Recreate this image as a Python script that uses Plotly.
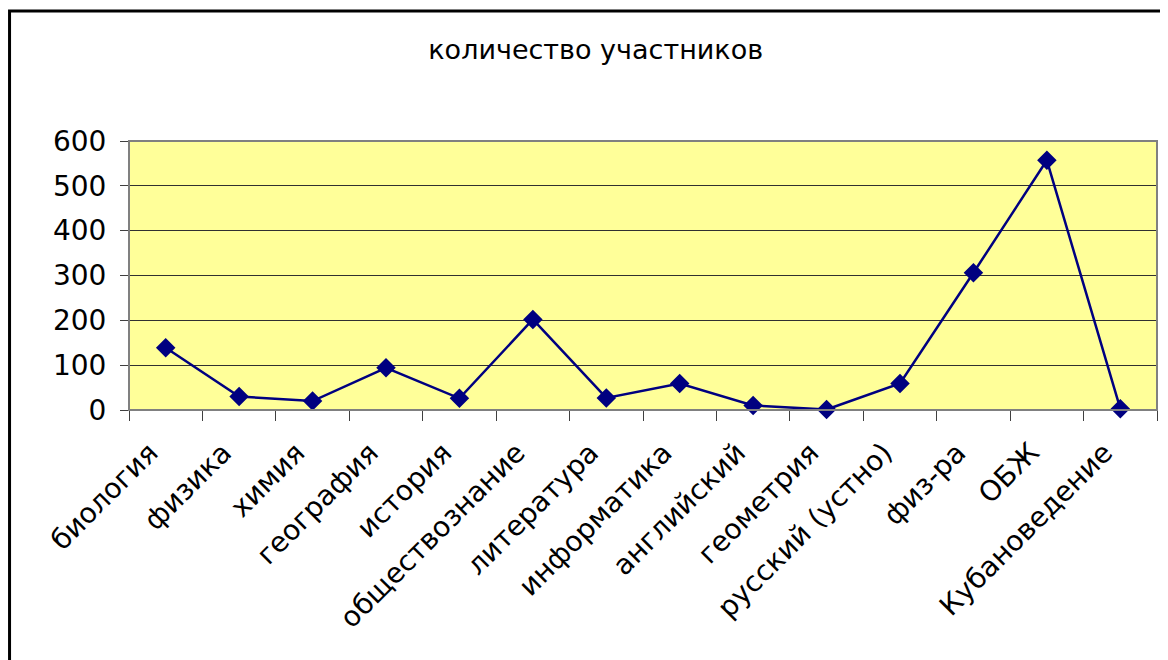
import plotly.graph_objects as go

subjects = ["биология", "физика", "химия", "география", "история",
            "обществознание", "литература", "информатика", "английский",
            "геометрия", "русский (устно)", "физ-ра", "ОБЖ", "Кубановедение"]
participants = [139, 30, 20, 94, 26, 202, 27, 59, 10, 1, 59, 306, 557, 3]

y_ticks = [0, 100, 200, 300, 400, 500, 600]

fig = go.Figure()

fig.add_trace(go.Scatter(x=subjects,
                         y=participants,
                         mode='lines+markers',
                         line=dict(color='#000080', width=2.5),
                         marker=dict(symbol='diamond', size=15, color='#000080'),
                         cliponaxis=False,
                         showlegend=False))

# outer chart frame (cut off at right and bottom like the source)
fig.add_shape(type='rect', xref='paper', yref='paper',
              x0=-0.1162, x1=1.2, y0=-1.5, y1=1.4833,
              line=dict(color='black', width=3))
# plot area border
fig.add_shape(type='rect', xref='paper', yref='paper',
              x0=0, x1=1, y0=0, y1=1,
              line=dict(color='#808080', width=2))

# page body has an 8px margin, so the figure is sized to fit the window
fig.update_layout(width=1160, height=652,
                  title=dict(text="количество участников",
                             x=0.454, xref='paper', xanchor='center',
                             y=0.9356, yanchor='middle',
                             font=dict(family="DejaVu Sans", size=27, color='black')),
                  margin=dict(l=121, r=11, t=133, b=250),
                  font=dict(family="DejaVu Sans", color='black'),
                  xaxis=dict(type='category',
                             range=[-0.5, len(subjects) - 0.5],
                             automargin=False,
                             tickangle=-45,
                             tickson='boundaries',
                             ticks='outside',
                             ticklen=10,
                             tickcolor='#404040',
                             ticklabelstandoff=14,
                             ticklabelshift=-16,
                             showgrid=False,
                             showline=True,
                             linecolor='#404040',
                             tickfont=dict(size=28)),
                  yaxis=dict(range=[0, 600],
                             automargin=False,
                             tickvals=y_ticks,
                             ticks='outside',
                             ticklen=8,
                             tickcolor='#404040',
                             ticklabelstandoff=8,
                             showgrid=True,
                             gridcolor='#303030',
                             gridwidth=1,
                             showline=True,
                             linecolor='#404040',
                             zeroline=False,
                             tickfont=dict(size=28)),
                  paper_bgcolor='white',
                  plot_bgcolor='#FFFF99')

fig.write_html("out.html")
